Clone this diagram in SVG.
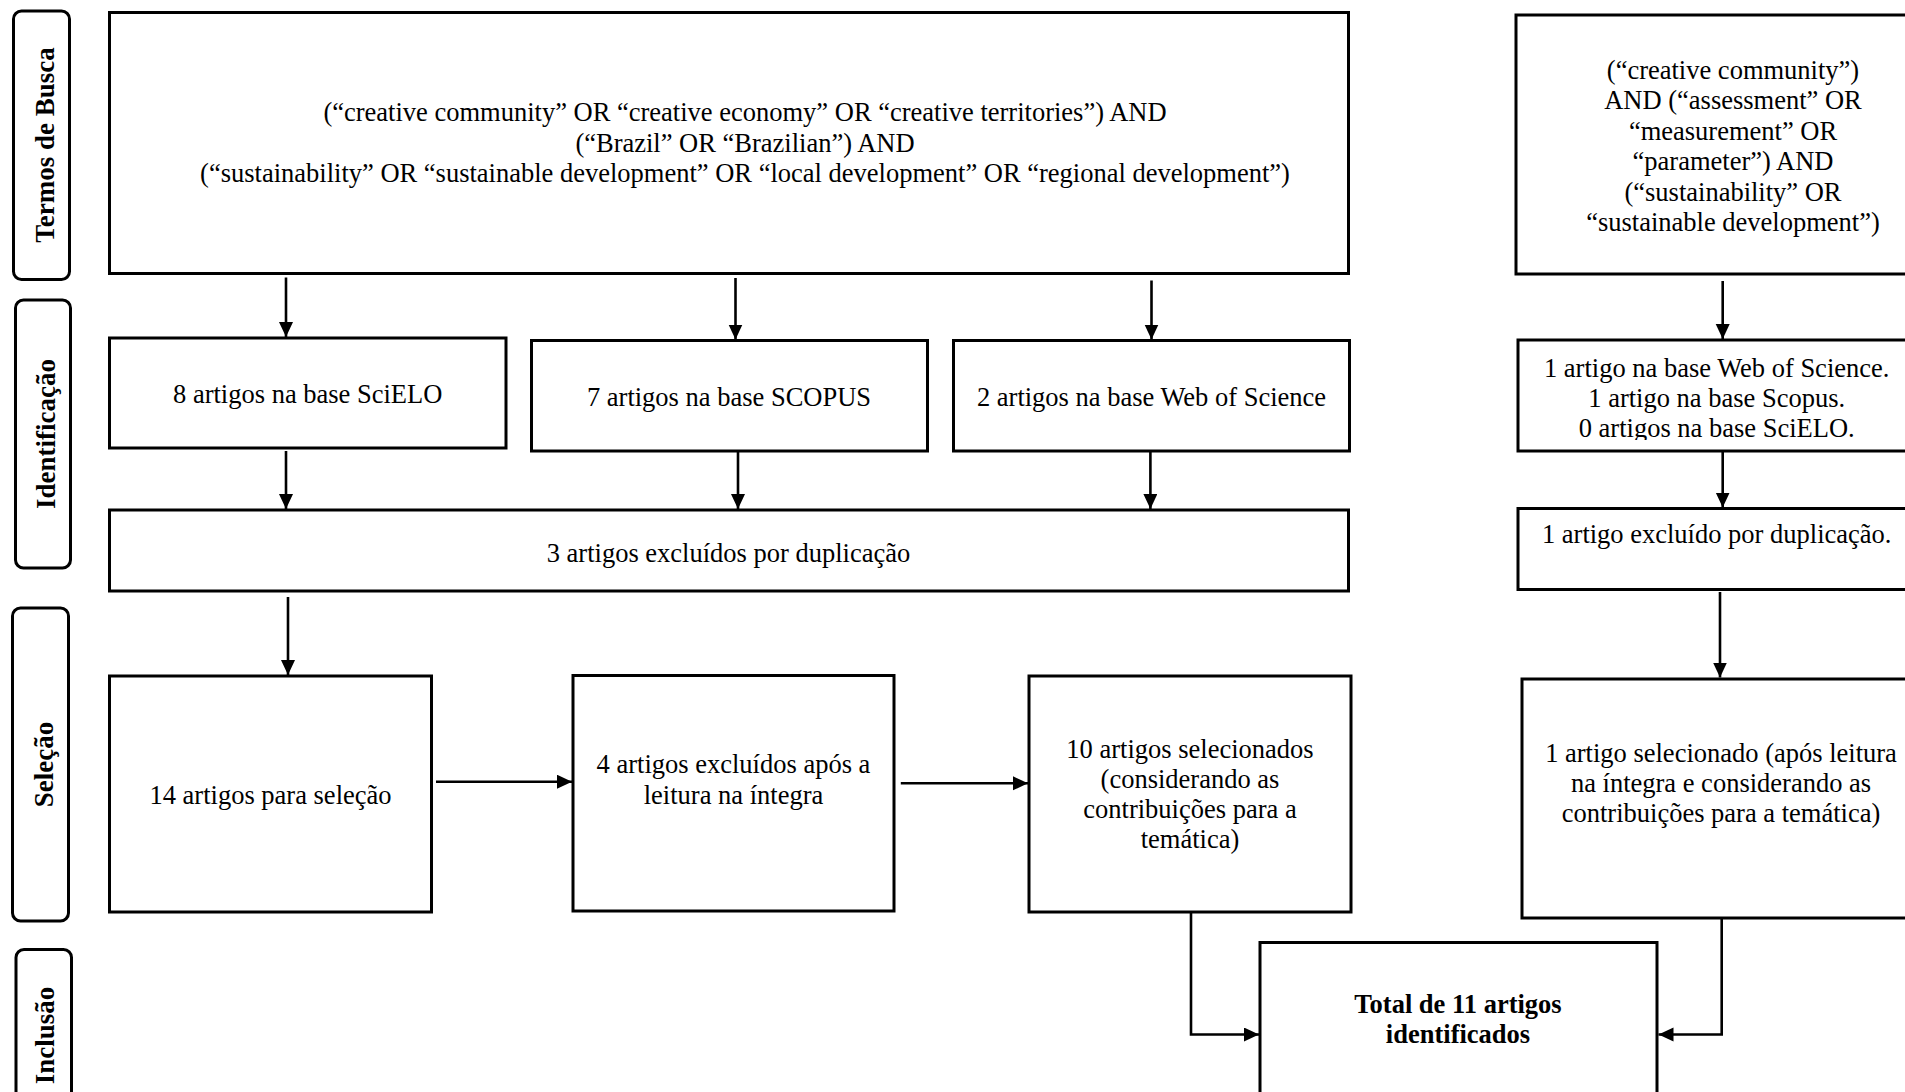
<svg xmlns="http://www.w3.org/2000/svg" width="1905" height="1092" viewBox="0 0 1905 1092">
<style>
.box{fill:#fff;stroke:#000;stroke-width:3}
.lab{fill:#fff;stroke:#000;stroke-width:3}
.t{font-family:"Liberation Serif","Times New Roman",serif;font-size:26.5px;fill:#000;text-anchor:middle}
.b{font-family:"Liberation Serif","Times New Roman",serif;font-size:26.5px;font-weight:bold;fill:#000;text-anchor:middle}
.lt{font-family:"Liberation Serif","Times New Roman",serif;font-size:27px;font-weight:bold;fill:#000;text-anchor:middle}
.c{fill:none;stroke:#000;stroke-width:2.6}
</style>
<defs>
<marker id="ah" markerUnits="userSpaceOnUse" markerWidth="16" markerHeight="16" refX="15" refY="7" orient="auto">
<path d="M0,0 L15,7 L0,14 z" fill="#000"/>
</marker>
<clipPath id="clipIdent"><rect x="1518" y="340" width="420" height="100"/></clipPath>
</defs>
<rect width="1905" height="1092" fill="#fff"/>

<g id="label-termos">
<rect class="lab" x="13.5" y="11" width="56" height="268.5" rx="8"/>
<text class="lt" transform="translate(53.5,145) rotate(-90)">Termos de Busca</text>
</g>
<g id="label-identificacao">
<rect class="lab" x="15.5" y="300" width="55" height="268" rx="8"/>
<text class="lt" transform="translate(54.5,434) rotate(-90)">Identificação</text>
</g>
<g id="label-selecao">
<rect class="lab" x="12.5" y="608" width="56" height="313" rx="8"/>
<text class="lt" transform="translate(53,764.5) rotate(-90)">Seleção</text>
</g>
<g id="label-inclusao">
<rect class="lab" x="16" y="949.5" width="55.5" height="160" rx="8"/>
<text class="lt" transform="translate(54,1035.5) rotate(-90)">Inclusão</text>
</g>

<g id="node-busca-main">
<rect class="box" x="109.5" y="12.5" width="1239" height="261"/>
<text class="t" x="745" y="121">(“creative community” OR “creative economy” OR “creative territories”) AND</text>
<text class="t" x="745" y="151.5">(“Brazil” OR “Brazilian”) AND</text>
<text class="t" x="745" y="182">(“sustainability” OR “sustainable development” OR “local development” OR “regional development”)</text>
</g>
<g id="node-busca-right">
<rect class="box" x="1516" y="15" width="440" height="259"/>
<text class="t" x="1733" y="78.5">(“creative community”)</text>
<text class="t" x="1733" y="109">AND (“assessment” OR</text>
<text class="t" x="1733" y="139.5">“measurement” OR</text>
<text class="t" x="1733" y="170">“parameter”) AND</text>
<text class="t" x="1733" y="200.5">(“sustainability” OR</text>
<text class="t" x="1733" y="231">“sustainable development”)</text>
</g>

<g id="node-scielo">
<rect class="box" x="109.5" y="338" width="396.5" height="110"/>
<text class="t" x="307.7" y="403">8 artigos na base SciELO</text>
</g>
<g id="node-scopus">
<rect class="box" x="531.5" y="340.5" width="396" height="110.5"/>
<text class="t" x="729" y="405.5">7 artigos na base SCOPUS</text>
</g>
<g id="node-wos">
<rect class="box" x="953.5" y="340.5" width="396" height="110.5"/>
<text class="t" x="1151.5" y="405.5">2 artigos na base Web of Science</text>
</g>
<g id="node-ident-right">
<rect class="box" x="1518" y="340" width="420" height="111"/>
<g clip-path="url(#clipIdent)">
<text class="t" x="1716.7" y="377">1 artigo na base Web of Science.</text>
<text class="t" x="1716.7" y="407">1 artigo na base Scopus.</text>
<text class="t" x="1716.7" y="437">0 artigos na base SciELO.</text>
</g>
</g>

<g id="node-dup">
<rect class="box" x="109.5" y="510" width="1239" height="81"/>
<text class="t" x="728.5" y="562">3 artigos excluídos por duplicação</text>
</g>
<g id="node-dup-right">
<rect class="box" x="1518" y="508.5" width="420" height="81"/>
<text class="t" x="1716.7" y="543">1 artigo excluído por duplicação.</text>
</g>

<g id="node-selecao">
<rect class="box" x="109.5" y="676" width="322" height="236"/>
<text class="t" x="270.5" y="804">14 artigos para seleção</text>
</g>
<g id="node-excluidos">
<rect class="box" x="573" y="675.5" width="321" height="235.5"/>
<text class="t" x="733.5" y="773">4 artigos excluídos após a</text>
<text class="t" x="733.5" y="803.5">leitura na íntegra</text>
</g>
<g id="node-selecionados">
<rect class="box" x="1029" y="676" width="322" height="236"/>
<text class="t" x="1190" y="758">10 artigos selecionados</text>
<text class="t" x="1190" y="788">(considerando as</text>
<text class="t" x="1190" y="818">contribuições para a</text>
<text class="t" x="1190" y="848">temática)</text>
</g>
<g id="node-selecionado-right">
<rect class="box" x="1522" y="679" width="420" height="239"/>
<text class="t" x="1721" y="762">1 artigo selecionado (após leitura</text>
<text class="t" x="1721" y="792">na íntegra e considerando as</text>
<text class="t" x="1721" y="822">contribuições para a temática)</text>
</g>

<g id="node-total">
<rect class="box" x="1260" y="942.5" width="397" height="200"/>
<text class="b" x="1458" y="1013">Total de 11 artigos</text>
<text class="b" x="1458" y="1043">identificados</text>
</g>

<g id="connectors">
<line class="c" x1="286" y1="277.5" x2="286" y2="337" marker-end="url(#ah)"/>
<line class="c" x1="735.5" y1="278" x2="735.5" y2="339.5" marker-end="url(#ah)"/>
<line class="c" x1="1151.5" y1="280.5" x2="1151.5" y2="339.5" marker-end="url(#ah)"/>
<line class="c" x1="1722.7" y1="281" x2="1722.7" y2="339" marker-end="url(#ah)"/>
<line class="c" x1="286" y1="451" x2="286" y2="509" marker-end="url(#ah)"/>
<line class="c" x1="738" y1="450.5" x2="738" y2="509" marker-end="url(#ah)"/>
<line class="c" x1="1150.4" y1="452" x2="1150.4" y2="509" marker-end="url(#ah)"/>
<line class="c" x1="1722.7" y1="451.6" x2="1722.7" y2="507.5" marker-end="url(#ah)"/>
<line class="c" x1="288" y1="597" x2="288" y2="675" marker-end="url(#ah)"/>
<line class="c" x1="1720" y1="592" x2="1720" y2="677.5" marker-end="url(#ah)"/>
<line class="c" x1="436" y1="781.7" x2="572" y2="781.7" marker-end="url(#ah)"/>
<line class="c" x1="900.8" y1="783.3" x2="1028" y2="783.3" marker-end="url(#ah)"/>
<path class="c" d="M1191,912 V1034.5 H1259" marker-end="url(#ah)"/>
<path class="c" d="M1721.7,918 V1034.5 H1658.5" marker-end="url(#ah)"/>
</g>
</svg>
